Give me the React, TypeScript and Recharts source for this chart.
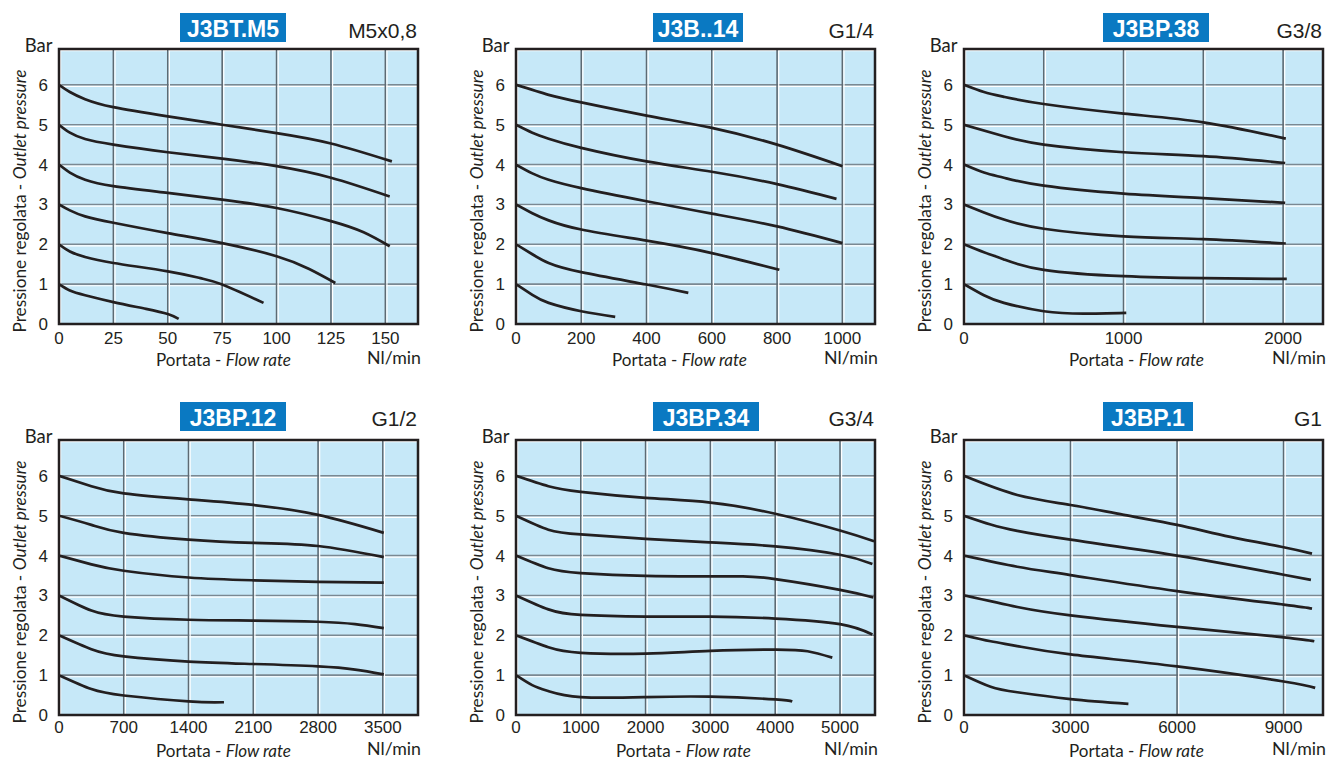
import { CartesianGrid, Line, LineChart, ReferenceArea, XAxis, YAxis } from "recharts"

type Pt = [number, number]

// [flow Nl/min, outlet pressure bar], one array per set pressure
const m5Curves: Pt[][] = [
  [[0, 1], [5, 0.84], [12, 0.72], [25, 0.55], [40, 0.38], [50, 0.25], [55, 0.13]],
  [[0, 2], [5, 1.82], [12, 1.68], [25, 1.53], [50, 1.32], [65, 1.15], [75, 0.99], [94, 0.53]],
  [[0, 3], [5, 2.85], [12, 2.7], [25, 2.54], [50, 2.28], [75, 2.03], [100, 1.7], [115, 1.38], [127, 1.03]],
  [[0, 4], [5, 3.8], [12, 3.62], [25, 3.46], [50, 3.29], [75, 3.12], [100, 2.91], [125, 2.58], [140, 2.3], [152, 1.95]],
  [[0, 5], [5, 4.8], [12, 4.64], [25, 4.5], [50, 4.31], [75, 4.15], [100, 3.96], [125, 3.67], [152, 3.2]],
  [[0, 6], [5, 5.82], [12, 5.64], [25, 5.44], [50, 5.21], [75, 5.0], [100, 4.79], [125, 4.53], [153, 4.08]],
]

const g14Curves: Pt[][] = [
  [[0, 1], [50, 0.73], [100, 0.53], [200, 0.32], [304, 0.18]],
  [[0, 2], [50, 1.75], [100, 1.53], [200, 1.3], [400, 0.99], [528, 0.78]],
  [[0, 3], [50, 2.78], [100, 2.6], [200, 2.37], [400, 2.09], [600, 1.78], [807, 1.36]],
  [[0, 4], [50, 3.78], [100, 3.62], [200, 3.41], [400, 3.08], [600, 2.77], [800, 2.45], [1000, 2.03]],
  [[0, 5], [50, 4.8], [100, 4.65], [200, 4.42], [400, 4.08], [600, 3.82], [800, 3.51], [982, 3.14]],
  [[0, 6], [100, 5.75], [200, 5.56], [400, 5.23], [600, 4.92], [800, 4.5], [1000, 3.96]],
]

const g38Curves: Pt[][] = [
  [[0, 1], [125, 0.72], [250, 0.53], [500, 0.32], [750, 0.26], [1017, 0.28]],
  [[0, 2], [125, 1.8], [250, 1.62], [500, 1.36], [1000, 1.2], [1500, 1.15], [2023, 1.13]],
  [[0, 3], [125, 2.8], [250, 2.62], [500, 2.39], [1000, 2.2], [1500, 2.13], [2017, 2.02]],
  [[0, 4], [125, 3.8], [250, 3.67], [500, 3.47], [1000, 3.27], [1500, 3.16], [2013, 3.04]],
  [[0, 5], [250, 4.71], [500, 4.5], [1000, 4.31], [1500, 4.21], [2013, 4.04]],
  [[0, 6], [125, 5.82], [250, 5.7], [500, 5.52], [1000, 5.28], [1500, 5.06], [2017, 4.65]],
]

const g12Curves: Pt[][] = [
  [[0, 1], [350, 0.65], [700, 0.49], [1400, 0.34], [1783, 0.32]],
  [[0, 2], [350, 1.65], [700, 1.47], [1400, 1.34], [2100, 1.28], [2800, 1.22], [3200, 1.14], [3510, 1.02]],
  [[0, 3], [350, 2.62], [700, 2.47], [1400, 2.39], [2100, 2.37], [2800, 2.34], [3200, 2.28], [3510, 2.18]],
  [[0, 4], [350, 3.78], [700, 3.62], [1400, 3.45], [2100, 3.38], [2800, 3.34], [3510, 3.32]],
  [[0, 5], [350, 4.77], [700, 4.57], [1400, 4.4], [2100, 4.32], [2800, 4.24], [3510, 3.96]],
  [[0, 6], [350, 5.74], [700, 5.56], [1400, 5.41], [2100, 5.27], [2800, 5.02], [3510, 4.57]],
]

const g34Curves: Pt[][] = [
  [[0, 1], [250, 0.75], [500, 0.6], [1000, 0.45], [2000, 0.45], [3000, 0.46], [4000, 0.39], [4263, 0.34]],
  [[0, 2], [500, 1.7], [1000, 1.56], [2000, 1.54], [3000, 1.61], [4000, 1.64], [4500, 1.6], [4881, 1.44]],
  [[0, 3], [500, 2.65], [1000, 2.51], [2000, 2.47], [3000, 2.47], [4000, 2.42], [5000, 2.28], [5500, 2.02]],
  [[0, 4], [500, 3.68], [1000, 3.56], [2000, 3.49], [3000, 3.48], [3500, 3.48], [4000, 3.41], [5000, 3.14], [5515, 2.95]],
  [[0, 5], [500, 4.65], [1000, 4.53], [2000, 4.42], [3000, 4.33], [4000, 4.23], [5000, 4.02], [5500, 3.79]],
  [[0, 6], [500, 5.74], [1000, 5.6], [2000, 5.45], [3000, 5.33], [4000, 5.05], [5000, 4.63], [5526, 4.36]],
]

const g1Curves: Pt[][] = [
  [[0, 1], [750, 0.71], [1500, 0.57], [3000, 0.4], [4630, 0.28]],
  [[0, 2], [750, 1.85], [1500, 1.73], [3000, 1.52], [6000, 1.22], [9000, 0.84], [9890, 0.68]],
  [[0, 3], [1500, 2.71], [3000, 2.5], [6000, 2.21], [9000, 1.95], [9865, 1.85]],
  [[0, 4], [1500, 3.72], [3000, 3.51], [6000, 3.11], [9000, 2.77], [9800, 2.67]],
  [[0, 5], [750, 4.78], [1500, 4.62], [3000, 4.4], [6000, 4.0], [9000, 3.52], [9770, 3.39]],
  [[0, 6], [1500, 5.52], [3000, 5.27], [4500, 5.02], [6000, 4.77], [7500, 4.47], [9000, 4.21], [9800, 4.05]],
]

const panelCurves = [m5Curves, g14Curves, g38Curves, g12Curves, g34Curves, g1Curves]
const panelTitles = ["J3BT.M5", "J3B..14", "J3BP.38", "J3BP.12", "J3BP.34", "J3BP.1"]
const portSizes = ["M5x0,8", "G1/4", "G3/8", "G1/2", "G3/4", "G1"]
const xMaxes = [165, 1100, 2250, 3880, 5540, 10110]
const xTicks = [
  [0, 25, 50, 75, 100, 125, 150],
  [0, 200, 400, 600, 800, 1000],
  [0, 500, 1000, 1500, 2000],
  [0, 700, 1400, 2100, 2800, 3500],
  [0, 1000, 2000, 3000, 4000, 5000],
  [0, 3000, 6000, 9000],
]
const xTickLabels = [
  ["0", "25", "50", "75", "100", "125", "150"],
  ["0", "200", "400", "600", "800", "1000"],
  ["0", "", "1000", "", "2000"],
  ["0", "700", "1400", "2100", "2800", "3500"],
  ["0", "1000", "2000", "3000", "4000", "5000"],
  ["0", "3000", "6000", "9000"],
]
const yTicks = [0, 1, 2, 3, 4, 5, 6]
const yMax = 6.9

// layout
const colLeft = [0, 457, 905]
const rowTop = [0, 390]
const titleX = [180, 196, 198, 180, 196, 198]
const titleW = [106, 90, 106, 106, 106, 90]
const flowLabelX = [156, 155, 164, 156, 159, 164]

const INK = "#231f20"
const numFont = "'Liberation Sans', Arial, sans-serif"
const textFont = "Lato, 'Open Sans', sans-serif"

const W = 440
const H = 390
const PLOT_H = 275

const gridH = (p: any) => (
  <g key={`h-${p.index}`}>
    <line x1={p.x1} y1={p.y1} x2={p.x2} y2={p.y2} stroke="#7a8892" strokeWidth={1.6} />
    <line x1={p.x1} y1={p.y1 + 1.6} x2={p.x2} y2={p.y2 + 1.6} stroke="#ffffff" strokeWidth={1.2} />
  </g>
)

const gridV = (p: any) => (
  <g key={`v-${p.index}`}>
    <line x1={p.x1} y1={p.y1} x2={p.x2} y2={p.y2} stroke="#5d6a73" strokeWidth={1.6} />
    <line x1={p.x1 + 1.6} y1={p.y1} x2={p.x2 + 1.6} y2={p.y2} stroke="#ffffff" strokeWidth={1.2} />
  </g>
)

function Panel({ idx }: { idx: number }) {
  const col = idx % 3
  const row = Math.floor(idx / 3)
  const mt = row === 0 ? 49 : 50
  const plotB = mt + PLOT_H
  const ticks = xTicks[idx]
  const labels = xTickLabels[idx]
  const xMax = xMaxes[idx]
  const curves = panelCurves[idx].map((c) => c.map(([q, p]) => ({ q, p })))
  const boxY = row === 0 ? 13 : 12

  return (
    <div style={{ position: "absolute", left: colLeft[col], top: rowTop[row], width: W, height: H }}>
      <LineChart width={W} height={H} margin={{ top: mt, right: 22, bottom: H - plotB - 35, left: 0 }}>
        <CartesianGrid fill="#c6e8f8" horizontal={gridH} vertical={gridV} />
        <XAxis
          type="number"
          dataKey="q"
          domain={[0, xMax]}
          ticks={ticks}
          interval={0}
          allowDataOverflow
          tickFormatter={(v) => labels[ticks.indexOf(v)] ?? ""}
          height={35}
          tickSize={0}
          tickMargin={row === 0 ? 8 : 6}
          axisLine={false}
          tick={{ fill: INK, fontSize: 17, fontFamily: numFont }}
        />
        <YAxis
          type="number"
          domain={[0, yMax]}
          ticks={yTicks}
          interval={0}
          allowDataOverflow
          width={59}
          tickSize={0}
          tickMargin={11}
          axisLine={false}
          tick={{ fill: INK, fontSize: 17, fontFamily: numFont }}
        />
        <ReferenceArea x1={0} x2={xMax} y1={0} y2={yMax} fill="none" stroke={INK} strokeWidth={2.5} />
        {curves.map((d, i) => (
          <Line
            key={i}
            data={d}
            dataKey="p"
            type="natural"
            stroke={INK}
            strokeWidth={2.7}
            strokeLinecap="butt"
            dot={false}
            activeDot={false}
            isAnimationActive={false}
          />
        ))}
      </LineChart>
      <svg
        width={W}
        height={H}
        style={{ position: "absolute", left: 0, top: 0, pointerEvents: "none", overflow: "visible" }}
      >
        <rect x={titleX[idx]} y={boxY} width={titleW[idx]} height={29} fill="#0a79c2" />
        <text
          x={titleX[idx] + titleW[idx] / 2}
          y={boxY + 23.5}
          textAnchor="middle"
          fill="#ffffff"
          fontFamily={numFont}
          fontWeight="bold"
          fontSize={23}
        >
          {panelTitles[idx]}
        </text>
        <text x={417} y={row === 0 ? 38.3 : 36} textAnchor="end" fill={INK} fontFamily={numFont} fontSize={21}>
          {portSizes[idx]}
        </text>
        <text x={52.5} y={mt + 3.4} textAnchor="end" fill={INK} fontFamily={textFont} fontSize={18.5}>
          Bar
        </text>
        <text
          transform={`translate(25.5, ${mt + 152}) rotate(-90)`}
          textAnchor="middle"
          fill={INK}
          fontFamily={textFont}
          fontSize={18}
          textLength={263}
          lengthAdjust="spacingAndGlyphs"
        >
          Pressione regolata - <tspan fontStyle="italic">Outlet pressure</tspan>
        </text>
        <text
          x={flowLabelX[idx]}
          y={plotB + 42}
          fill={INK}
          fontFamily={textFont}
          fontSize={18}
          textLength={135}
          lengthAdjust="spacingAndGlyphs"
        >
          Portata - <tspan fontStyle="italic">Flow rate</tspan>
        </text>
        <text
          x={421}
          y={plotB + 40}
          textAnchor="end"
          fill={INK}
          fontFamily={textFont}
          fontSize={18}
          textLength={54}
          lengthAdjust="spacingAndGlyphs"
        >
          Nl/min
        </text>
      </svg>
    </div>
  )
}

export default function App() {
  return (
    <div style={{ position: "absolute", left: 0, top: 0, width: 1341, height: 760, background: "#ffffff" }}>
      {panelTitles.map((t, i) => (
        <Panel key={t} idx={i} />
      ))}
    </div>
  )
}
